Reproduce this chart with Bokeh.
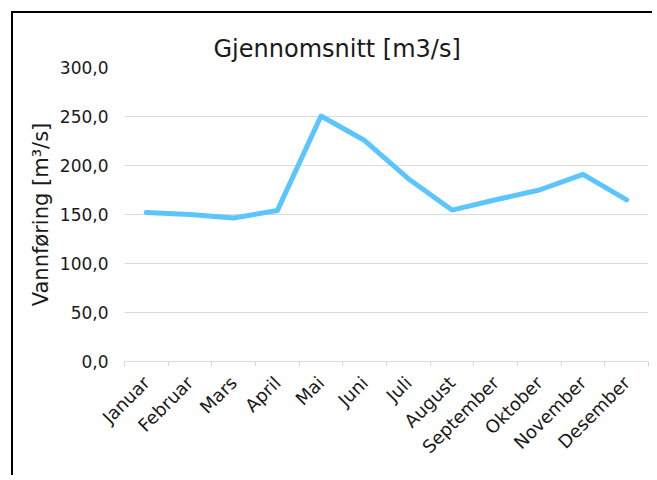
from math import pi
from bokeh.plotting import figure
from bokeh.models import FixedTicker, Range1d
from bokeh.embed import file_html
from bokeh.resources import INLINE

months = ["Januar", "Februar", "Mars", "April", "Mai", "Juni", "Juli",
          "August", "September", "Oktober", "November", "Desember"]
flow = [152, 150, 146.5, 154, 250.5, 225.5, 186.5, 154.5, 165, 175, 191, 165]
y_ticks = [0, 50, 100, 150, 200, 250, 300]
y_tick_labels = ["0,0", "50,0", "100,0", "150,0", "200,0", "250,0", "300,0"]
title_text = "Gjennomsnitt [m3/s]"
y_label = "Vannføring [m³/s]"

FONT = "DejaVu Sans"
TXT = "#1a1a1a"
GRID = "#D9D9D9"

x = [i + 0.5 for i in range(len(months))]

p = figure(width=641, height=464, output_backend="svg", toolbar_location=None,
           x_range=Range1d(0, len(months)), y_range=Range1d(0, 300),
           min_border_left=111, min_border_right=6, min_border_top=54,
           min_border_bottom=116, title=title_text)
p.styles = {"margin-left": "11px", "margin-top": "11px",
            "border-left": "2px solid black", "border-top": "2px solid black"}
p.outline_line_color = None

p.title.align = "left"
p.title.offset = 89
p.title.text_font = FONT
p.title.text_font_size = "24px"
p.title.text_font_style = "normal"
p.title.text_color = TXT

p.line(x, flow, line_width=5, color="#5BC5FF", line_join="round", line_cap="round")

xa = p.xaxis[0]
xa.ticker = FixedTicker(ticks=x, minor_ticks=list(range(len(months) + 1)))
xa.major_label_overrides = {x[i]: months[i] for i in range(len(months))}
xa.major_tick_line_color = None
xa.minor_tick_line_color = GRID
xa.minor_tick_in = 0
xa.minor_tick_out = 5
xa.axis_line_color = GRID
xa.major_label_orientation = pi / 4
xa.major_label_text_font = FONT
xa.major_label_text_font_size = "18px"
xa.major_label_text_color = TXT
xa.major_label_standoff = 12

ya = p.yaxis[0]
ya.ticker = FixedTicker(ticks=y_ticks)
ya.major_label_overrides = {y_ticks[i]: y_tick_labels[i] for i in range(len(y_ticks))}
ya.axis_line_color = None
ya.major_tick_line_color = None
ya.minor_tick_line_color = None
ya.major_label_standoff = 10
ya.major_label_text_font = FONT
ya.major_label_text_font_size = "17px"
ya.major_label_text_color = TXT
ya.axis_label = y_label
ya.axis_label_text_font = FONT
ya.axis_label_text_font_size = "21px"
ya.axis_label_text_font_style = "normal"
ya.axis_label_text_color = TXT
ya.axis_label_standoff = 4

p.xgrid.visible = False
p.ygrid.ticker = FixedTicker(ticks=y_ticks)
p.ygrid.grid_line_color = GRID

open("out.html", "w").write(file_html(p, INLINE))
